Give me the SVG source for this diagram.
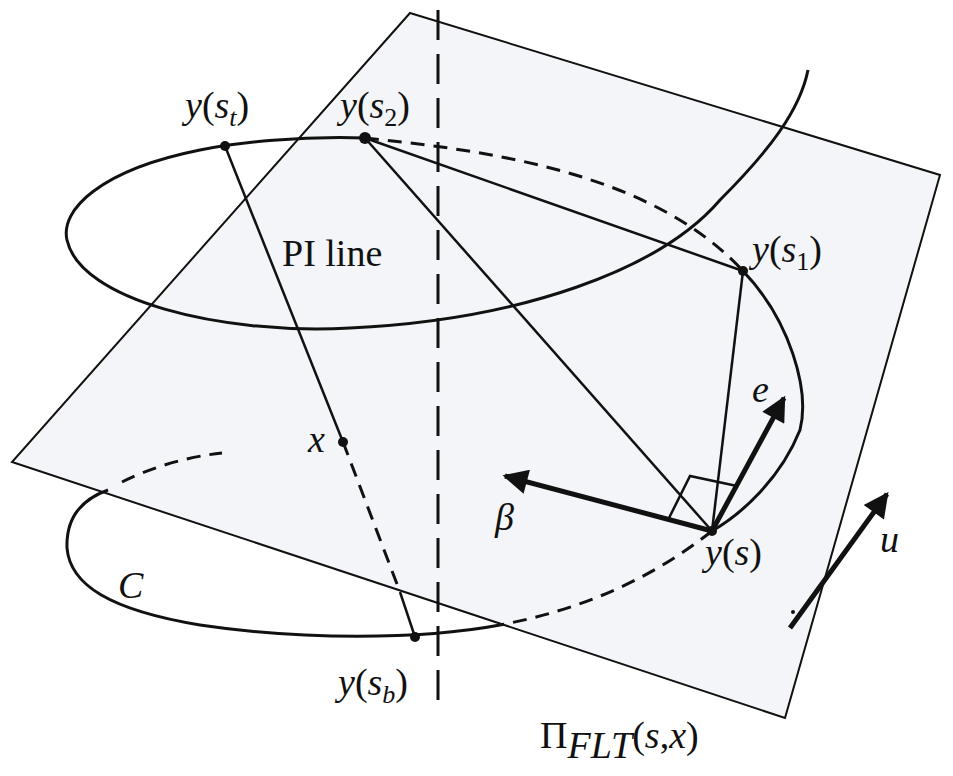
<svg xmlns="http://www.w3.org/2000/svg" width="953" height="776" viewBox="0 0 953 776">
<defs>
<style>
.c{fill:none;stroke:#111;stroke-width:3}
.d{fill:none;stroke:#111;stroke-width:3;stroke-dasharray:14 9}
.l{fill:none;stroke:#111;stroke-width:2.5}
.t{font-family:"Liberation Serif",serif;font-style:italic;font-size:38px;fill:#111}
.r{font-family:"Liberation Serif",serif;font-size:38px;fill:#111}
</style>
<marker id="ah" viewBox="0 0 10 10" refX="9" refY="5" markerWidth="7" markerHeight="5" orient="auto" markerUnits="strokeWidth"><path d="M0,0 L10,5 L0,10 Z" fill="#111"/></marker>
</defs>
<rect width="953" height="776" fill="#fff"/>
<g id="plane"><polygon points="410,13 940,175 785,718 12,462" fill="#f3f5f8" stroke="#111" stroke-width="2"/></g>
<g id="curve">
<path class="c" d="M365,138 C300,136 240,142 200,150 C100,170 60,210 67,240 C80,300 220,335 350,328 C520,320 660,270 720,200 C770,150 800,110 808,70"/>
<path class="d" d="M365,138 C480,150 650,170 743,271"/>
<path class="c" d="M743,271 C790,320 810,390 800,430 C780,480 740,515 712,531"/>
<path class="d" d="M712,531 C650,580 580,610 500,625"/>
<path class="c" d="M500,625 C420,640 300,640 200,625 C110,610 70,585 67,548 C66,520 80,500 108,490"/>
<path class="d" d="M122,482 C150,468 185,457 222,453"/>
</g>
<g id="axis"><line x1="438" y1="10" x2="438" y2="712" stroke="#111" stroke-width="3" stroke-dasharray="30 14"/></g>
<g id="connectors">
<line class="l" x1="225" y1="146" x2="343" y2="442"/>
<line class="d" x1="343" y1="442" x2="400" y2="592"/>
<line class="l" x1="400" y1="592" x2="415" y2="637"/>
<line class="l" x1="365" y1="138" x2="712" y2="531"/>
<line class="l" x1="365" y1="138" x2="743" y2="271"/>
<line class="l" x1="743" y1="271" x2="712" y2="531"/>
<polyline class="l" points="668,520 690,476 737,486" stroke-width="2"/>
<line x1="712" y1="531" x2="784" y2="398" stroke="#111" stroke-width="5" marker-end="url(#ah)"/>
<line x1="712" y1="531" x2="505" y2="476" stroke="#111" stroke-width="5" marker-end="url(#ah)"/>
<line x1="790" y1="628" x2="887" y2="494" stroke="#111" stroke-width="5" marker-end="url(#ah)"/>
<circle cx="793" cy="612" r="2" fill="#111"/>
</g>
<g id="points" fill="#111">
<circle cx="225" cy="146" r="5"/><circle cx="365" cy="138" r="6"/><circle cx="743" cy="271" r="5"/>
<circle cx="712" cy="531" r="5"/><circle cx="343" cy="442" r="5"/><circle cx="415" cy="637" r="5"/>
</g>
<g id="labels">
<text class="t" x="185" y="118">y<tspan font-style="normal">(</tspan>s<tspan font-size="26" dy="8">t</tspan><tspan font-style="normal" dy="-8">)</tspan></text>
<text class="t" x="340" y="118">y<tspan font-style="normal">(</tspan>s<tspan font-style="normal" font-size="26" dy="8">2</tspan><tspan font-style="normal" dy="-8">)</tspan></text>
<text class="t" x="752" y="262">y<tspan font-style="normal">(</tspan>s<tspan font-style="normal" font-size="26" dy="8">1</tspan><tspan font-style="normal" dy="-8">)</tspan></text>
<text class="r" x="282" y="266">PI line</text>
<text class="t" x="752" y="402">e</text>
<text class="t" x="495" y="530">β</text>
<text class="t" x="705" y="565">y<tspan font-style="normal">(</tspan>s<tspan font-style="normal">)</tspan></text>
<text class="t" x="880" y="552">u</text>
<text class="t" x="308" y="452">x</text>
<text class="t" x="118" y="598">C</text>
<text class="t" x="338" y="695">y<tspan font-style="normal">(</tspan>s<tspan font-size="26" dy="8">b</tspan><tspan font-style="normal" dy="-8">)</tspan></text>
<text class="r" x="540" y="748">Π<tspan class="t" font-size="26" dy="10">FLT</tspan><tspan dy="-10">(</tspan><tspan font-style="italic">s</tspan>,<tspan font-style="italic">x</tspan>)</text>
</g>
</svg>
